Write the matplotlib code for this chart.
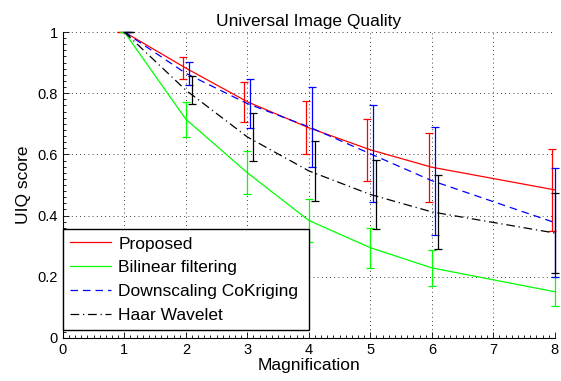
import numpy as np
import matplotlib
matplotlib.use('Agg')
import matplotlib.pyplot as plt
from matplotlib.ticker import MultipleLocator

plt.rcParams['font.family'] = ['Liberation Sans', 'DejaVu Sans']

# magnification levels
mag = [1, 2, 3, 4, 5, 6, 8]

# mean UIQ scores
proposed = [1.0, 0.882, 0.772, 0.687, 0.615, 0.558, 0.484]
bilinear = [1.0, 0.715, 0.540, 0.384, 0.295, 0.229, 0.151]
cokriging = [1.0, 0.865, 0.766, 0.690, 0.602, 0.514, 0.377]
haar = [1.0, 0.810, 0.657, 0.546, 0.469, 0.412, 0.343]

# half-width of error bars
proposed_err = [0.0, 0.035, 0.066, 0.086, 0.102, 0.113, 0.133]
bilinear_err = [0.0, 0.057, 0.070, 0.069, 0.065, 0.060, 0.047]
cokriging_err = [0.0, 0.037, 0.081, 0.130, 0.159, 0.176, 0.177]
haar_err = [0.0, 0.045, 0.077, 0.098, 0.112, 0.122, 0.130]

series = [
    ('Proposed', proposed, proposed_err, (1, 0, 0), '-', -0.05),
    ('Bilinear filtering', bilinear, bilinear_err, (0, 1, 0), '-', 0.0),
    ('Downscaling CoKriging', cokriging, cokriging_err, (0, 0, 1), (0, (6, 4)), 0.05),
    ('Haar Wavelet', haar, haar_err, 'k', (0, (7, 3, 1, 3)), 0.1),
]

fig = plt.figure(figsize=(5.61, 3.81), dpi=100)
ax = fig.add_axes([0.112, 0.113, 0.877, 0.803])

x = np.array(mag, dtype=float)
for label, y, err, color, ls, off in series:
    ax.plot(x, y, color=color, linestyle=ls, linewidth=0.9, label=label)
    # bars are shifted a little so they don't overlap; keep them inside x <= 8
    xe = x + off if off < 0 else np.minimum(x + off, 8.0)
    eb = ax.errorbar(xe, y, yerr=err, fmt='none', ecolor=color, elinewidth=0.9,
                     capsize=3, capthick=0.9)
    for art in eb.lines[1] + eb.lines[2]:
        art.set_clip_on(False)

ax.set_xlim(0, 8)
ax.set_ylim(0, 1)
ax.xaxis.set_major_locator(MultipleLocator(1))
ax.yaxis.set_major_locator(MultipleLocator(0.2))
ax.xaxis.set_minor_locator(MultipleLocator(0.1))
ax.yaxis.set_minor_locator(MultipleLocator(0.02))
ax.yaxis.set_major_formatter(plt.FuncFormatter(lambda v, p: f'{v:g}'))
ax.tick_params(which='both', direction='in', labelsize=10.5, width=0.6)
ax.tick_params(which='major', length=4)
ax.tick_params(which='minor', length=2)
ax.grid(True, which='major', linestyle=(0, (1, 4)), color='k', linewidth=0.6)
ax.spines['top'].set_visible(False)
ax.spines['right'].set_visible(False)
ax.spines['left'].set_linewidth(0.8)
ax.spines['bottom'].set_linewidth(0.8)

ax.set_title('Universal Image Quality', fontsize=12.5, pad=4)
ax.set_xlabel('Magnification', fontsize=12.5, labelpad=1)
ax.set_ylabel('UIQ score', fontsize=12.5, labelpad=5)

leg = ax.legend(loc='lower left', bbox_to_anchor=(0.0, 0.026, 0.5, 0.3), mode='expand',
                fontsize=12.5, fancybox=False, framealpha=1, edgecolor='k',
                handlelength=2.4, handletextpad=0.4, borderpad=0.4,
                labelspacing=0.5, borderaxespad=0)
leg.get_frame().set_linewidth(1.0)

fig.savefig('out.png', dpi=100)
